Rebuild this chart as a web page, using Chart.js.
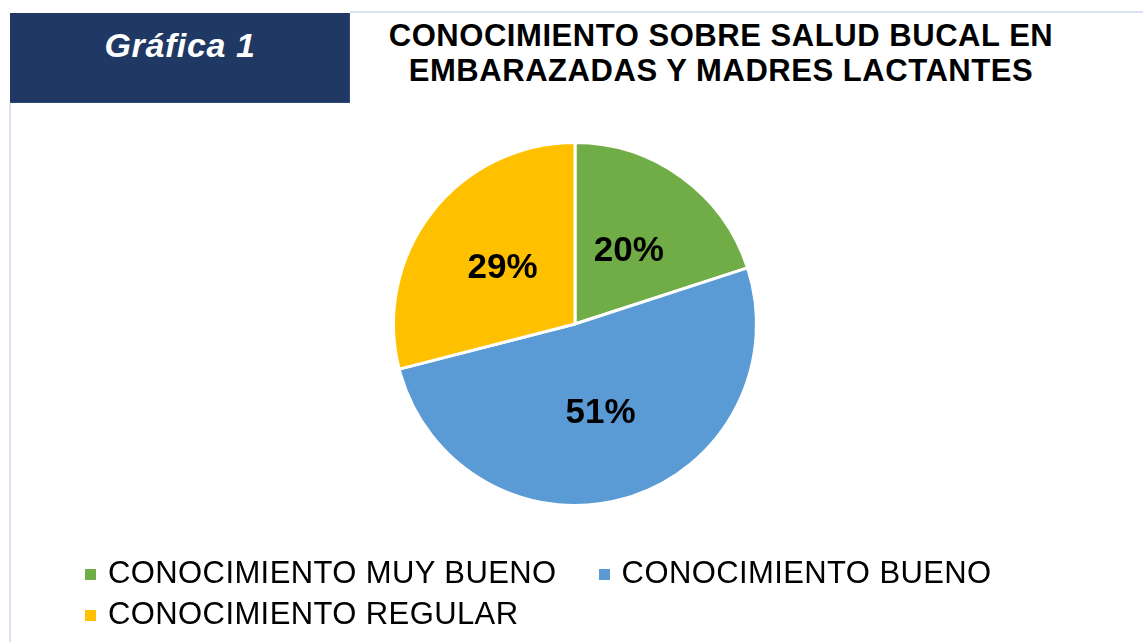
<!DOCTYPE html>
<html lang="es">
<head>
<meta charset="utf-8">
<script src="https://cdn.jsdelivr.net/npm/chart.js@4"></script>
<style>
  html, body { margin: 0; padding: 0; background: #ffffff; }
  body { width: 1143px; height: 642px; position: relative; overflow: hidden;
         font-family: "Liberation Sans", Arial, sans-serif; }
  #chart { position: absolute; left: 0; top: 0; }
  .topline { position: absolute; left: 350px; top: 11px; width: 793px; height: 2px; background: #D9E2F3; }
  .leftline { position: absolute; left: 9px; top: 103px; width: 2px; height: 539px; background: #D9E2F3; }
  .badge { position: absolute; left: 10px; top: 13px; width: 340px; height: 90px;
           background: #203864; box-sizing: border-box; border-right: 1px solid #2E4A7C; border-bottom: 1px solid #2E4A7C; }
  .badge span { position: absolute; left: 0; top: 15px; width: 340px; text-align: center;
           color: #ffffff; font-weight: bold; font-style: italic; font-size: 34px; line-height: 34px; letter-spacing: 0.6px; }
  .title { position: absolute; left: 321px; top: 18px; width: 800px; text-align: center; white-space: nowrap;
           font-weight: bold; font-size: 31px; line-height: 35px; letter-spacing: 0.55px; color: #000; }
  .legend { position: absolute; left: 85px; top: 552px; width: 1000px; display: flex; flex-wrap: wrap; }
  .legend .item { display: flex; align-items: flex-start; height: 41px; margin-right: 42px; }
  .legend .box { width: 11px; height: 11px; margin-top: 17px; margin-right: 12px; flex: none; }
  .legend .txt { font-size: 31px; line-height: 41px; letter-spacing: 0.4px; color: #000; white-space: nowrap; }
</style>
</head>
<body>
<div class="topline"></div>
<div class="leftline"></div>
<div class="badge"><span id="badgeText"></span></div>
<div class="title" id="title"></div>
<canvas id="chart" width="1143" height="642"></canvas>
<div class="legend" id="legend"></div>
<script>
const badgeLabel = "Gráfica 1";
const titleLines = ["CONOCIMIENTO SOBRE SALUD BUCAL EN", "EMBARAZADAS Y MADRES LACTANTES"];
const categories = ["CONOCIMIENTO MUY BUENO", "CONOCIMIENTO BUENO", "CONOCIMIENTO REGULAR"];
const percentages = [20, 51, 29];
const sliceColors = ["#70AD47", "#5B9BD5", "#FFC000"];

document.getElementById('badgeText').textContent = badgeLabel;
document.getElementById('title').innerHTML = titleLines.map(t => '<div>' + t + '</div>').join('');

const legendEl = document.getElementById('legend');
categories.forEach((c, i) => {
  const item = document.createElement('div');
  item.className = 'item';
  const box = document.createElement('span');
  box.className = 'box';
  box.style.background = sliceColors[i];
  const txt = document.createElement('span');
  txt.className = 'txt';
  txt.textContent = c;
  item.appendChild(box);
  item.appendChild(txt);
  legendEl.appendChild(item);
});

const sliceLabels = {
  id: 'sliceLabels',
  afterDatasetsDraw(chart) {
    const ctx = chart.ctx;
    const meta = chart.getDatasetMeta(0);
    const values = chart.data.datasets[0].data;
    ctx.save();
    ctx.font = 'bold 35px "Liberation Sans", Arial, sans-serif';
    ctx.fillStyle = '#000000';
    ctx.textAlign = 'center';
    ctx.textBaseline = 'middle';
    meta.data.forEach((arc, i) => {
      const p = arc.getProps(['x', 'y', 'startAngle', 'endAngle', 'outerRadius'], true);
      const mid = (p.startAngle + p.endAngle) / 2;
      const r = p.outerRadius * 0.505;
      ctx.fillText(values[i] + '%', p.x + Math.cos(mid) * r, p.y + Math.sin(mid) * r + 1);
    });
    ctx.restore();
  }
};

new Chart(document.getElementById('chart'), {
  type: 'pie',
  data: {
    labels: categories,
    datasets: [{
      data: percentages,
      backgroundColor: sliceColors,
      borderColor: '#ffffff',
      borderWidth: 3
    }]
  },
  options: {
    responsive: false,
    animation: false,
    devicePixelRatio: 1,
    layout: { padding: { left: 392, right: 385, top: 141, bottom: 135 } },
    plugins: {
      legend: { display: false },
      title: { display: false },
      tooltip: { enabled: false }
    }
  },
  plugins: [sliceLabels]
});
</script>
</body>
</html>
